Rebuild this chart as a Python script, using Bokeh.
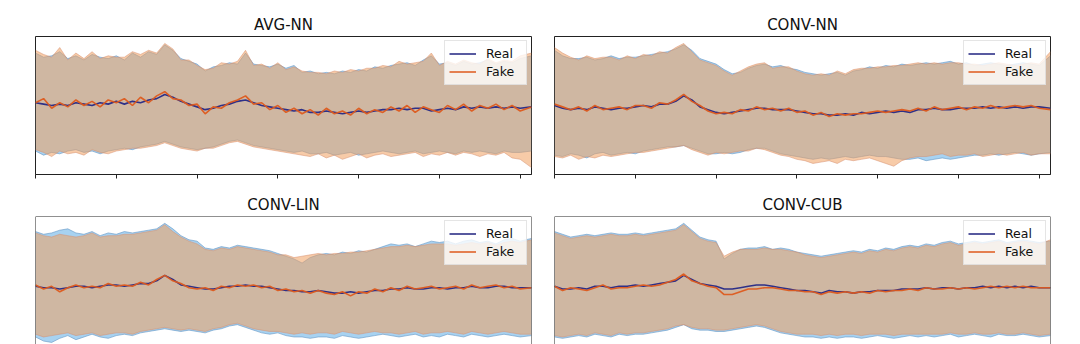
from bokeh.plotting import figure
from bokeh.models import FixedTicker, Span, Legend, LegendItem, Range1d
from bokeh.layouts import column, row
from bokeh.embed import file_html
from bokeh.resources import INLINE

# ---- data (y in % of panel height) ----
X = list(range(0, 610, 10)) + [614]

TITLES = ["AVG-NN", "CONV-NN", "CONV-LIN", "CONV-CUB"]
TICKS = [0, 100, 200, 300, 400, 500, 600]

avg_real_mean = [52,51,50,51,50,52,51,50,52,51,53,51,53,52,54,55,58,56,53,51,49,47,48,50,51,53,54,52,50,49,48,47,46,47,45,45,46,45,44,45,46,45,46,47,47,48,47,48,48,46,47,48,47,49,48,49,48,49,48,49,48,49]
avg_fake_mean = [52,55,48,52,49,54,50,53,49,54,52,55,50,56,52,57,60,55,54,50,51,44,49,48,52,54,57,51,52,47,50,45,48,44,47,43,48,44,46,43,48,44,47,45,49,46,50,45,49,47,45,50,47,51,46,50,48,51,47,50,46,49]
avg_real_hi = [88,85,86,89,84,86,83,87,85,84,86,83,88,85,89,87,94,90,84,82,80,75,78,79,81,80,88,80,79,78,80,77,79,74,75,73,74,73,75,74,76,75,78,77,79,80,81,79,83,86,80,81,79,82,80,81,83,80,82,81,84,86]
avg_fake_hi = [90,87,85,92,83,88,84,89,84,86,85,85,89,87,90,88,95,91,83,83,79,76,77,81,80,82,90,79,80,77,81,76,78,75,74,74,73,75,74,76,75,77,77,79,78,82,80,81,82,88,79,82,80,83,81,80,84,81,83,82,86,88]
avg_real_lo = [17,14,16,15,17,18,16,17,15,17,18,19,18,20,21,22,24,22,20,19,18,19,20,22,24,25,23,21,20,19,18,17,16,17,15,15,16,14,15,16,14,15,16,17,16,15,16,17,15,16,17,16,15,17,16,17,16,15,17,16,16,17]
avg_fake_lo = [18,16,13,17,15,16,14,18,16,15,17,18,19,19,20,21,23,21,19,18,17,19,19,21,23,24,22,20,19,18,17,16,15,14,13,15,12,14,11,13,15,12,14,15,13,14,15,16,13,15,14,16,14,16,15,13,15,14,16,12,11,5]

cnn_real_mean = [50,48,47,48,47,49,48,47,48,48,49,50,49,51,51,53,57,54,49,47,45,44,45,46,47,48,48,47,47,47,46,45,44,44,43,43,44,43,45,44,45,46,45,46,45,47,47,48,47,47,48,48,48,49,48,49,48,49,48,49,49,48]
cnn_fake_mean = [51,49,47,49,46,50,47,48,49,47,50,50,48,52,51,54,58,53,50,46,44,45,44,47,46,49,47,48,46,48,45,46,43,45,42,44,43,44,44,45,46,45,46,47,46,48,46,49,47,48,49,47,49,48,50,48,49,50,49,50,48,47]
cnn_real_hi = [90,86,84,84,85,83,84,86,84,85,85,86,87,88,89,91,94,90,84,82,80,76,73,74,77,79,80,78,79,77,76,74,73,72,73,74,72,75,76,78,77,79,78,80,79,80,81,80,81,82,80,81,79,80,81,80,79,80,81,80,79,86]
cnn_fake_hi = [92,88,85,83,86,84,85,85,83,86,84,87,86,89,88,92,95,89,83,81,79,75,72,75,78,80,81,77,78,78,75,73,72,73,72,75,73,76,77,77,78,78,79,79,80,81,80,81,80,81,81,80,80,79,80,81,80,79,80,81,80,89]
cnn_real_lo = [14,13,15,14,12,15,16,14,15,16,15,17,18,19,20,20,21,19,17,15,15,16,15,16,18,19,19,17,15,14,13,12,11,12,11,12,13,12,13,14,13,13,12,11,11,12,10,11,12,11,12,13,14,14,15,14,15,16,15,14,15,16]
cnn_fake_lo = [13,12,14,11,13,12,14,13,14,15,16,16,17,18,19,20,21,18,16,14,16,15,16,17,17,19,18,16,14,13,11,10,8,9,10,8,11,10,11,12,10,8,6,10,12,13,13,14,15,13,14,14,15,13,14,15,14,15,16,14,15,15]

lin_real_mean = [49,48,48,47,48,49,49,48,49,50,50,49,50,51,51,53,57,54,50,49,48,47,47,48,49,49,50,49,49,48,47,46,46,45,45,46,45,44,44,45,44,45,46,46,47,47,48,47,47,48,48,47,48,48,49,48,48,49,49,48,48,48]
lin_fake_mean = [50,47,49,45,48,50,48,49,48,51,49,50,49,52,50,54,57,53,51,48,47,48,46,49,48,50,49,50,48,49,46,47,45,46,44,46,44,43,45,42,45,44,47,45,48,46,49,47,48,49,47,48,49,47,50,48,49,50,48,49,47,48]
lin_real_hi = [89,87,88,90,91,88,87,89,86,88,87,89,88,89,90,91,95,91,86,83,82,77,76,78,77,79,78,77,76,75,73,71,69,66,70,72,73,72,74,73,75,74,76,78,80,79,80,78,80,82,81,82,80,82,83,81,82,80,83,84,82,84]
lin_fake_hi = [88,86,85,87,86,85,86,88,85,86,86,87,87,88,89,90,94,89,85,82,80,76,75,77,76,78,77,76,75,74,72,72,70,71,72,73,72,73,73,74,74,75,76,77,78,78,79,78,79,80,80,80,79,80,81,80,81,79,81,82,81,83]
lin_real_lo = [12,9,8,11,13,10,12,14,12,11,13,14,13,15,16,17,18,17,16,17,16,15,17,18,20,21,19,17,15,14,15,13,12,12,11,12,12,11,13,12,11,12,13,14,13,12,13,14,12,13,12,14,13,12,14,13,12,13,14,13,12,13]
lin_fake_lo = [14,12,13,14,15,13,14,15,13,14,15,15,14,16,17,18,19,18,17,18,17,16,18,19,21,22,20,18,17,16,16,15,14,15,14,15,15,14,16,15,14,15,16,15,15,14,15,16,14,15,15,16,15,14,16,15,14,15,16,15,14,14]

cub_real_mean = [49,47,47,48,47,49,49,48,49,49,50,49,50,51,52,53,57,54,51,50,49,47,47,48,49,50,50,49,48,47,46,46,45,44,46,45,45,44,45,45,46,46,46,47,47,47,48,47,48,48,47,48,48,49,48,49,48,49,48,49,48,48]
cub_fake_mean = [49,46,48,47,46,48,50,47,48,48,49,50,49,50,52,54,58,53,51,49,48,43,43,45,47,47,48,48,47,46,46,45,45,43,45,44,45,44,45,44,46,45,46,46,47,46,48,47,47,48,47,48,47,48,49,48,49,48,49,48,48,48]
cub_real_hi = [89,87,85,86,87,86,87,88,87,87,88,87,88,89,90,91,95,90,85,83,82,69,73,76,77,77,78,76,77,76,74,73,72,71,72,73,74,75,74,76,75,77,76,78,79,78,80,79,81,82,80,81,82,81,82,83,81,82,83,82,81,82]
cub_fake_hi = [88,86,84,85,86,85,86,87,86,86,87,86,87,88,89,90,94,89,84,82,81,71,74,76,76,76,77,76,76,75,74,72,71,70,71,72,73,74,73,75,74,76,75,77,78,77,79,78,80,81,79,80,81,80,81,82,80,81,82,81,80,83]
cub_real_lo = [12,11,12,13,12,14,13,12,14,13,14,14,15,16,17,19,21,18,17,17,16,16,17,18,19,20,19,17,15,14,13,12,12,11,12,11,12,12,11,12,13,12,11,12,13,12,13,12,13,14,12,13,14,13,12,14,13,13,14,13,12,13]
cub_fake_lo = [13,12,13,14,13,15,14,13,15,14,15,15,16,17,18,20,21,19,18,18,17,17,18,19,20,21,20,18,16,15,14,14,14,13,14,13,14,14,13,14,14,14,13,14,14,14,14,14,14,15,14,14,15,14,14,15,14,14,15,14,13,14]

PANELS = [
    (avg_real_mean, avg_fake_mean, avg_real_hi, avg_real_lo, avg_fake_hi, avg_fake_lo),
    (cnn_real_mean, cnn_fake_mean, cnn_real_hi, cnn_real_lo, cnn_fake_hi, cnn_fake_lo),
    (lin_real_mean, lin_fake_mean, lin_real_hi, lin_real_lo, lin_fake_hi, lin_fake_lo),
    (cub_real_mean, cub_fake_mean, cub_real_hi, cub_real_lo, cub_fake_hi, cub_fake_lo),
]

# ---- styles ----
FONT = "DejaVu Sans"
REAL_BAND = "#3c9be0"
FAKE_BAND = "#f0a060"
REAL_LINE = "#2e3088"
FAKE_LINE = "#dd5a1e"
FRAME = "#222222"


def make_panel(idx):
    rm, fm, rhi, rlo, fhi, flo = PANELS[idx]
    top = idx < 2
    left = idx % 2 == 0
    h = 190 if top else 154
    p = figure(width=540, height=h, output_backend="svg", toolbar_location=None,
               x_range=Range1d(0, 614),
               y_range=Range1d(0, 100) if top else Range1d(6.5, 100),
               y_axis_location=None,
               x_axis_location="below" if top else None,
               min_border_left=35 if left else 14,
               min_border_right=9 if left else 30,
               min_border_top=36 if top else 25,
               min_border_bottom=16 if top else 0)
    p.grid.visible = False
    p.background_fill_color = "white"
    p.border_fill_color = "white"
    p.title.text = TITLES[idx]
    p.title.text_font = FONT
    p.title.text_font_size = "15px"
    p.title.text_font_style = "normal"
    p.title.text_color = "#111111"
    p.title.align = "center"
    p.title.standoff = 6

    p.varea(x=X, y1=rlo, y2=rhi, fill_color=REAL_BAND, fill_alpha=0.45)
    p.line(X, rhi, line_color="#5a8ec0", line_alpha=0.55, line_width=1)
    p.line(X, rlo, line_color="#5a8ec0", line_alpha=0.55, line_width=1)
    p.varea(x=X, y1=flo, y2=fhi, fill_color=FAKE_BAND, fill_alpha=0.55)
    p.line(X, fhi, line_color="#d89070", line_alpha=0.5, line_width=1)
    p.line(X, flo, line_color="#d89070", line_alpha=0.5, line_width=1)
    r_real = p.line(X, rm, line_color=REAL_LINE, line_width=1.6)
    r_fake = p.line(X, fm, line_color=FAKE_LINE, line_width=1.6, line_alpha=0.95)

    if top:
        p.outline_line_color = FRAME
        p.outline_line_width = 1
        ax = p.xaxis[0]
        ax.ticker = FixedTicker(ticks=TICKS)
        ax.major_label_overrides = {t: "" for t in TICKS}
        ax.major_label_text_font_size = "0px"
        ax.major_label_standoff = 0
        ax.major_tick_out = 4
        ax.major_tick_in = 0
        ax.minor_tick_line_color = None
        ax.axis_line_color = FRAME
        ax.major_tick_line_color = FRAME
    else:
        p.outline_line_color = None
        for loc, dim in ((0, "height"), (614, "height"), (100, "width")):
            p.add_layout(Span(location=loc, dimension=dim, line_color=FRAME, line_width=1))

    legend = Legend(items=[LegendItem(label="Real", renderers=[r_real]),
                           LegendItem(label="Fake", renderers=[r_fake])],
                    location="top_right")
    legend.margin = 4
    legend.padding = 4
    legend.spacing = 1
    legend.glyph_width = 27
    legend.glyph_height = 17
    legend.label_height = 17
    legend.label_width = 36
    legend.label_standoff = 10
    legend.label_text_font = FONT
    legend.label_text_font_size = "12.5px"
    legend.label_text_color = "#111111"
    legend.background_fill_alpha = 0.8
    legend.border_line_color = "#cccccc"
    legend.border_line_width = 1
    p.add_layout(legend)
    return p


plots = [make_panel(i) for i in range(4)]
layout = column(row(plots[0], plots[1]), row(plots[2], plots[3]))

open("out.html", "w").write(file_html(layout, INLINE))
